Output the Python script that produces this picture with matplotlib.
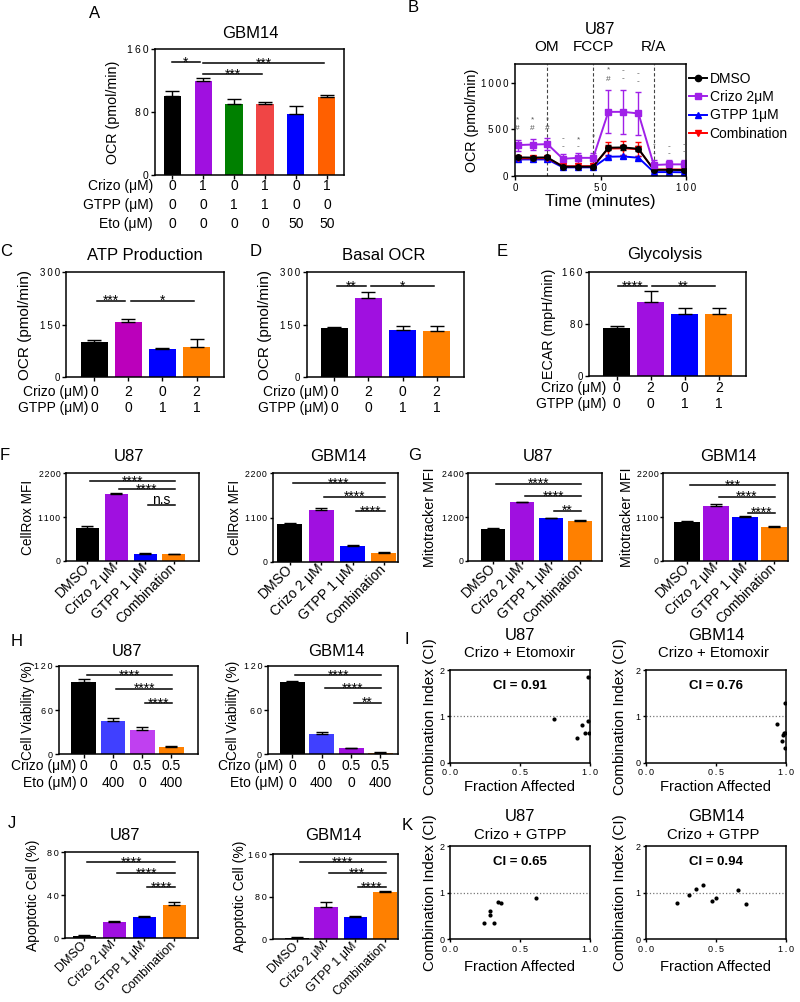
import numpy as np
import matplotlib
matplotlib.use('Agg')
import matplotlib.pyplot as plt
from matplotlib.lines import Line2D
from matplotlib.ticker import FuncFormatter
from matplotlib.transforms import blended_transform_factory

plt.rcParams['font.family'] = ['Liberation Sans', 'DejaVu Sans']
plt.rcParams['axes.linewidth'] = 1.1
plt.rcParams['xtick.major.width'] = 1.0
plt.rcParams['ytick.major.width'] = 1.0
plt.rcParams['xtick.major.size'] = 3
plt.rcParams['ytick.major.size'] = 3

# ---------------- data ----------------
# A: GBM14 OCR
a_vals = [100, 119, 90, 90.5, 78, 99.5]
a_errs = [7, 4.5, 6, 2, 10, 2.5]
a_crizo = ['0', '1', '0', '1', '0', '1']
a_gtpp = ['0', '0', '1', '1', '0', '0']
a_eto = ['0', '0', '0', '0', '50', '50']
a_sig = [(0, 1, 143, '*'), (1, 5, 142, '***'), (1, 3, 128, '***')]

# B: U87 seahorse trace
b_time = [1.5, 10.3, 19, 28, 36.9, 45.7, 54.6, 63.4, 72.2, 81.2, 90.1, 98.9]
b_dmso = [200, 198, 200, 100, 100, 100, 304, 307, 292, 66, 66, 64]
b_dmso_err = [12, 12, 12, 8, 8, 8, 25, 25, 25, 8, 8, 8]
b_crizo = [332, 338, 342, 185, 195, 195, 689, 689, 672, 118, 125, 125]
b_crizo_err = [60, 62, 65, 55, 55, 55, 230, 240, 230, 50, 50, 45]
b_gtpp = [178, 178, 178, 93, 93, 93, 207, 210, 196, 42, 42, 40]
b_gtpp_err = [10, 10, 10, 6, 6, 6, 15, 15, 15, 6, 6, 6]
b_combo = [190, 190, 192, 105, 105, 106, 295, 297, 288, 70, 70, 70]
b_combo_err = [15, 15, 15, 10, 10, 10, 75, 75, 75, 12, 12, 12]
b_inject = [('OM', 18.5), ('FCCP', 45.8), ('R/A', 81)]
b_marks = [(0, 600, '*'), (0, 505, '#'), (1, 600, '*'), (1, 505, '#'),
           (2, 600, '*'), (2, 505, '#'), (3, 397, '-'), (3, 314, '-'),
           (4, 386, '*'), (4, 314, '-'), (5, 421, '*'), (5, 361, '-'),
           (6, 1136, '*'), (6, 1040, '#'), (7, 1136, '-'), (7, 1040, '-'),
           (8, 1100, '-'), (8, 1011, '-'), (9, 332, '-'), (9, 243, '-'),
           (10, 314, '-'), (10, 243, '-'), (11, 332, '-'), (11, 262, '-')]

# C-E: U87 OCR/ECAR
cde_crizo = ['0', '2', '0', '2']
cde_gtpp = ['0', '0', '1', '1']
c_vals = [102, 159, 81, 87.5]
c_errs = [5, 7, 3, 21]
c_sig = [(0, 1, 219, '***'), (1, 3, 219, '*')]
d_vals = [140, 225.7, 135, 132]
d_errs = [4, 19, 12, 15.5]
d_sig = [(0, 1, 261, '**'), (1, 3, 261, '*')]
e_vals = [73.6, 114.7, 95.6, 95.6]
e_errs = [3.4, 16.3, 8.9, 9.9]
e_sig = [(0, 1, 139, '****'), (1, 3, 139, '**')]

# F-G, J: flow cytometry
cats = ['DMSO', 'Crizo 2 μM', 'GTPP 1 μM', 'Combination']
f_u87 = [816, 1680, 169, 161]
f_u87_err = [50, 25, 17, 15]
f_u87_sig = [(0, 3, 2007, '****'), (1, 3, 1798, '****'), (2, 3, 1403, 'n.s')]
f_gbm = [932, 1289, 399, 224]
f_gbm_err = [24, 41, 17, 25]
f_gbm_sig = [(0, 3, 1950, '****'), (1, 3, 1617, '****'), (2, 3, 1260, '****')]
g_u87 = [862, 1604, 1165, 1091]
g_u87_err = [27, 17, 16, 27]
g_u87_sig = [(0, 3, 2117, '****'), (1, 3, 1776, '****'), (2, 3, 1374, '**')]
g_gbm = [982, 1378, 1108, 856]
g_gbm_err = [25, 42, 18, 18]
g_gbm_sig = [(0, 3, 1907, '***'), (1, 3, 1613, '****'), (2, 3, 1210, '****')]

# H: viability
h_crizo = ['0', '0', '0.5', '0.5']
h_eto = ['0', '400', '0', '400']
h_u87 = [97.5, 45, 33, 9.5]
h_u87_err = [4.1, 3.8, 3.6, 1.7]
h_u87_sig = [(0, 3, 107, '****'), (1, 3, 89, '****'), (2, 3, 69, '****')]
h_gbm = [98.4, 27.5, 8.1, 2.2]
h_gbm_err = [1.4, 2.3, 0.8, 1.3]
h_gbm_sig = [(0, 3, 107, '****'), (1, 3, 90, '****'), (2, 3, 70, '**')]

# J: apoptosis
j_u87 = [2.2, 14.9, 19.5, 31.3]
j_u87_err = [1.2, 1.2, 1.0, 2.5]
j_u87_sig = [(0, 3, 70.7, '****'), (1, 3, 60.5, '****'), (2, 3, 47.4, '****')]
j_gbm = [1.9, 61, 41.2, 88.1]
j_gbm_err = [1.85, 8.4, 2.5, 3.1]
j_gbm_sig = [(0, 3, 144.4, '****'), (1, 3, 123.8, '***'), (2, 3, 97.5, '****')]

# I, K: combination index
i_u87_fa = [0.743, 0.905, 0.94, 0.964, 0.983, 0.995, 0.983]
i_u87_ci = [0.94, 0.54, 0.81, 0.65, 0.91, 0.65, 1.84]
i_gbm_fa = [0.94, 0.97, 0.983, 0.995, 0.995, 0.995, 0.99]
i_gbm_ci = [0.83, 0.47, 0.60, 0.65, 1.29, 0.32, 0.63]
k_u87_fa = [0.245, 0.286, 0.286, 0.317, 0.345, 0.364, 0.614]
k_u87_ci = [0.36, 0.61, 0.53, 0.34, 0.81, 0.77, 0.89]
k_gbm_fa = [0.225, 0.31, 0.362, 0.41, 0.47, 0.5, 0.657, 0.716]
k_gbm_ci = [0.77, 0.94, 1.08, 1.16, 0.82, 0.89, 1.06, 0.75]

BLACK = '#000000'
VIOLET = '#A010E0'
BLUE = '#0000FF'
ORANGE = '#FF8000'

# ---------------- figure ----------------
W, H = 800, 1002
fig = plt.figure(figsize=(W / 100, H / 100), dpi=100)


def spaced(sep='\u2009', fmt='%g'):
    # GraphPad style letter-spaced tick numbers
    return FuncFormatter(lambda v, p: sep.join(fmt % v))


def box(x0, y0, x1, y1):
    ax = fig.add_axes([x0 / W, 1 - y1 / H, (x1 - x0) / W, (y1 - y0) / H])
    ax.px = (x0, y0, x1, y1)
    return ax


def ftext(x, y, s, size=12, **kw):
    fig.text(x / W, 1 - y / H, s, fontsize=size, ha=kw.pop('ha', 'center'),
             va=kw.pop('va', 'center'), **kw)


def ylab(ax, xc, s, size=10):
    x0, y0, x1, y1 = ax.px
    ftext(xc, (y0 + y1) / 2, s, size=size, rotation=90)


def bars(ax, vals, errs, colors, width, xlim, ylim, yticks, sig, gap=(0.1, 0.03),
         tsize=7, ssize=10, capsize=5, sep='\u2009', tlen=3):
    x = np.arange(len(vals))
    ax.bar(x, vals, width, color=colors, zorder=2)
    ax.errorbar(x, vals, yerr=[np.zeros(len(vals)), errs], fmt='none', ecolor='black',
                elinewidth=1, capsize=capsize, capthick=1, zorder=3)
    ax.set_xlim(xlim)
    ax.set_ylim(ylim)
    ax.set_yticks(yticks)
    ax.yaxis.set_major_formatter(spaced(sep))
    ax.set_xticks(x)
    ax.tick_params(labelsize=tsize, length=tlen, pad=1.5)
    for i, j, y, s in sig:
        ax.plot([i + gap[0], j + gap[1]], [y, y], color='black', lw=1.1, zorder=4)
        off = -3.2 if '*' in s else 0.5
        ax.annotate(s, ((i + gap[0] + j + gap[1]) / 2, y), xytext=(0, off),
                    textcoords='offset points', ha='center', va='baseline', fontsize=ssize)


def rows(ax, labels, values, ys, label_x, size=10):
    trans = blended_transform_factory(ax.transData, ax.transAxes)
    ax.set_xticklabels([])
    for lab, vals, y in zip(labels, values, ys):
        ax.text(label_x, y, lab, transform=ax.transAxes, ha='right', va='center', fontsize=size)
        for i, v in enumerate(vals):
            ax.text(i, y, v, transform=trans, ha='center', va='center', fontsize=size)


def cat_labels(ax, size=10):
    ax.set_xticklabels(cats, rotation=45, ha='right', va='center', rotation_mode='anchor',
                       fontsize=size)
    ax.tick_params(axis='x', pad=1, length=2.5)


def ci_plot(ax, fa, ci, label):
    ax.scatter(fa, ci, s=9, color='black', zorder=3, linewidths=0)
    ax.axhline(1, color='#777777', ls=':', lw=0.9)
    ax.set_xlim(0, 1)
    ax.set_ylim(0, 2)
    ax.set_xticks([0, 0.5, 1])
    ax.xaxis.set_major_formatter(spaced('\u2009', '%.1f'))
    ax.set_yticks([0, 1, 2])
    ax.tick_params(labelsize=6.5, length=2.5, pad=1.5)
    ax.text(0.5, 0.83, label, transform=ax.transAxes, ha='center', va='center',
            fontsize=9.5, fontweight='bold')


# ---- A ----
ax = box(155, 49, 344, 175)
bars(ax, a_vals, a_errs, [BLACK, VIOLET, '#008000', '#F04545', BLUE, '#FF6000'],
     0.55, (-0.55, 5.55), (0, 160), [0, 80, 160], a_sig, gap=(0.0, -0.1), tsize=7.5)
rows(ax, ['Crizo (μM)', 'GTPP (μM)', 'Eto (μM)'], [a_crizo, a_gtpp, a_eto],
     [-0.09, -0.24, -0.39], -0.01)
ylab(ax, 113, 'OCR (pmol/min)', 10.3)
ftext(95, 14, 'A')
ftext(250, 33, 'GBM14')

# ---- B ----
ax = box(515, 64.3, 686, 176)
series = [('GTPP 1μM', b_gtpp, b_gtpp_err, BLUE, '^'),
          ('Combination', b_combo, b_combo_err, '#FF0000', 'v'),
          ('DMSO', b_dmso, b_dmso_err, BLACK, 'o'),
          ('Crizo 2μM', b_crizo, b_crizo_err, '#A020E8', 's')]
handles = {}
for name, vals, errs, col, mk in series:
    ax.errorbar(b_time, vals, yerr=errs, color=col, marker=mk, ms=4, lw=1.4,
                elinewidth=1, capsize=2.5, capthick=1)
    handles[name] = Line2D([], [], color=col, marker=mk, ms=4.5, lw=1.4)
for name, t in b_inject:
    ax.axvline(t, color='#444444', ls='--', lw=0.8, dashes=(3, 2))
    ax.text(t, 1.09, name, transform=blended_transform_factory(ax.transData, ax.transAxes),
            ha='center', va='bottom', fontsize=11)
for idx, v, s in b_marks:
    ax.text(b_time[idx], v, s, ha='center', va='center', fontsize=6, color='#555555')
ax.set_xlim(0, 100)
ax.set_ylim(0, 1200)
ax.set_xticks([0, 50, 100])
ax.set_yticks([0, 500, 1000])
ax.xaxis.set_major_formatter(spaced())
ax.yaxis.set_major_formatter(spaced())
ax.tick_params(labelsize=7, length=3, pad=2)
order = ['DMSO', 'Crizo 2μM', 'GTPP 1μM', 'Combination']
ax.legend([handles[n] for n in order], order, loc='upper left', bbox_to_anchor=(1.02, 0.93),
          frameon=False, fontsize=10, handlelength=1.3, handletextpad=0.15,
          labelspacing=0.3, borderaxespad=0, borderpad=0)
ylab(ax, 471.7, 'OCR (pmol/min)', 10.3)
ftext(600, 201.7, 'Time (minutes)', 12)
ftext(413, 8, 'B')
ftext(600, 30, 'U87')

# ---- C ----
ax = box(66, 272.3, 224.3, 377.3)
bars(ax, c_vals, c_errs, [BLACK, '#BB00BB', BLUE, ORANGE], 0.79, (-0.82, 3.81),
     (0, 300), [0, 150, 300], c_sig, gap=(0.08, -0.08))
rows(ax, ['Crizo (μM)', 'GTPP (μM)'], [cde_crizo, cde_gtpp], [-0.137, -0.295], 0.14)
ylab(ax, 25, 'OCR (pmol/min)', 11)
ftext(6, 252, 'C')
ftext(145, 255, 'ATP Production')

# ---- D ----
ax = box(306.7, 272.3, 464.3, 377.3)
bars(ax, d_vals, d_errs, [BLACK, VIOLET, BLUE, ORANGE], 0.79, (-0.81, 3.81),
     (0, 300), [0, 150, 300], d_sig, gap=(0.08, -0.08))
rows(ax, ['Crizo (μM)', 'GTPP (μM)'], [cde_crizo, cde_gtpp], [-0.137, -0.295], 0.137)
ylab(ax, 265, 'OCR (pmol/min)', 11)
ftext(256, 252, 'D')
ftext(384, 255, 'Basal OCR')

# ---- E ----
ax = box(589, 272.3, 746, 376)
bars(ax, e_vals, e_errs, [BLACK, VIOLET, BLUE, ORANGE], 0.79, (-0.81, 3.8),
     (0, 160), [0, 80, 160], e_sig, gap=(0.05, -0.12))
rows(ax, ['Crizo (μM)', 'GTPP (μM)'], [cde_crizo, cde_gtpp], [-0.119, -0.27], 0.113)
ylab(ax, 549, 'ECAR (mpH/min)', 10.3)
ftext(502, 252, 'E')
ftext(665, 255, 'Glycolysis')

four = [BLACK, VIOLET, BLUE, ORANGE]
thin = '\u200a'

# ---- F ----
ax = box(66, 473.3, 199, 560.7)
bars(ax, f_u87, f_u87_err, four, 0.8, (-0.74, 3.87), (0, 2200), [0, 1100, 2200], f_u87_sig,
     tsize=6.3, capsize=4, sep=thin, tlen=2.5)
cat_labels(ax)
ylab(ax, 28.3, 'CellRox MFI', 9.8)
ftext(5, 455, 'F')
ftext(129, 456.7, 'U87')

ax = box(272.7, 473.3, 398, 561.7)
bars(ax, f_gbm, f_gbm_err, four, 0.8, (-0.55, 3.45), (0, 2200), [0, 1100, 2200], f_gbm_sig,
     tsize=6.3, capsize=4, sep=thin, tlen=2.5)
cat_labels(ax)
ylab(ax, 235, 'CellRox MFI', 9.8)
ftext(338, 456.7, 'GBM14')

# ---- G ----
ax = box(468.3, 473.3, 601.7, 560.7)
bars(ax, g_u87, g_u87_err, four, 0.83, (-0.86, 3.74), (0, 2400), [0, 1200, 2400], g_u87_sig,
     tsize=6.3, capsize=4, sep=thin, tlen=2)
cat_labels(ax)
ylab(ax, 430, 'Mitotracker MFI', 10.3)
ftext(415, 455, 'G')
ftext(538, 456.7, 'U87')

ax = box(663.3, 473.3, 788.3, 560.7)
bars(ax, g_gbm, g_gbm_err, four, 0.88, (-0.82, 3.49), (0, 2200), [0, 1100, 2200], g_gbm_sig,
     tsize=6.3, capsize=4, sep=thin, tlen=2)
cat_labels(ax)
ylab(ax, 627, 'Mitotracker MFI', 10.3)
ftext(728, 456.7, 'GBM14')

# ---- H ----
ax = box(59, 665.7, 198.3, 754.3)
bars(ax, h_u87, h_u87_err, [BLACK, '#4040FF', '#C040F0', ORANGE], 0.85, (-0.85, 3.92),
     (0, 120), [0, 60, 120], h_u87_sig, tsize=6.5, capsize=4)
rows(ax, ['Crizo (μM)', 'Eto (μM)'], [h_crizo, h_eto], [-0.132, -0.327], 0.127)
ylab(ax, 28.3, 'Cell Viability (%)', 9.8)
ftext(17, 641.7, 'H')
ftext(126.7, 651.7, 'U87')

ax = box(268.3, 665.7, 398, 754.3)
bars(ax, h_gbm, h_gbm_err, [BLACK, '#4040FF', VIOLET, ORANGE], 0.85, (-0.82, 3.6), (0, 120),
     [0, 60, 120], h_gbm_sig, tsize=6.5, capsize=4)
rows(ax, ['Crizo (μM)', 'Eto (μM)'], [h_crizo, h_eto], [-0.132, -0.327], 0.116)
ylab(ax, 233.3, 'Cell Viability (%)', 9.8)
ftext(336.7, 651.7, 'GBM14')

# ---- I ----
ax = box(450, 670, 590, 762.7)
ci_plot(ax, i_u87_fa, i_u87_ci, 'CI = 0.91')
ylab(ax, 430, 'Combination Index (CI)', 11)
ftext(520, 786.7, 'Fraction Affected', 10.6)
ftext(407, 640, 'I')
ftext(520, 635, 'U87')
ftext(520, 653, 'Crizo + Etomoxir', 10.7)

ax = box(645.7, 670, 785.7, 762.7)
ci_plot(ax, i_gbm_fa, i_gbm_ci, 'CI = 0.76')
ylab(ax, 620, 'Combination Index (CI)', 11)
ftext(715, 786.7, 'Fraction Affected', 10.6)
ftext(716, 635, 'GBM14')
ftext(713, 653, 'Crizo + Etomoxir', 10.7)

# ---- J ----
ax = box(65, 852.3, 198.3, 938.3)
bars(ax, j_u87, j_u87_err, four, 0.78, (-0.64, 3.8), (0, 80), [0, 40, 80], j_u87_sig,
     tsize=6.5, capsize=4)
cat_labels(ax, 9)
ylab(ax, 33.3, 'Apoptotic Cell (%)', 10)
ftext(12, 824, 'J')
ftext(125, 836, 'U87')

ax = box(272.7, 854, 398, 939.3)
bars(ax, j_gbm, j_gbm_err, four, 0.8, (-0.82, 3.45), (0, 160), [0, 80, 160], j_gbm_sig,
     tsize=6.5, capsize=4)
cat_labels(ax, 9)
ylab(ax, 240, 'Apoptotic Cell (%)', 10)
ftext(333, 836, 'GBM14')

# ---- K ----
ax = box(450, 846, 590, 939.3)
ci_plot(ax, k_u87_fa, k_u87_ci, 'CI = 0.65')
ylab(ax, 430, 'Combination Index (CI)', 11)
ftext(520, 966.7, 'Fraction Affected', 10.6)
ftext(407, 825, 'K')
ftext(520, 816.7, 'U87')
ftext(520, 835, 'Crizo + GTPP', 10.7)

ax = box(645.7, 846, 785.7, 939.3)
ci_plot(ax, k_gbm_fa, k_gbm_ci, 'CI = 0.94')
ylab(ax, 620, 'Combination Index (CI)', 11)
ftext(715, 966.7, 'Fraction Affected', 10.6)
ftext(716, 816.7, 'GBM14')
ftext(713, 835, 'Crizo + GTPP', 10.7)

fig.savefig('out.png', dpi=100)
